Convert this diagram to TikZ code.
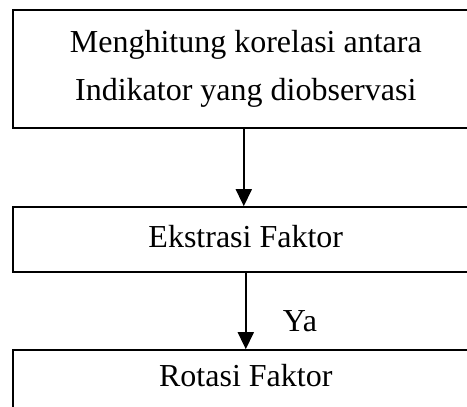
\documentclass[tikz,border=0pt]{standalone}
\usepackage{fontspec}
\setmainfont{Liberation Serif}
\usetikzlibrary{arrows.meta,positioning}
\tikzset{%
    flow_block/.style={%
        rectangle, draw=black, line width=1.6pt, minimum width=520pt, anchor=west
    },
    flow_text/.style={%
        align=center, text height=22pt, text depth=7pt, font=\fontsize{32}{48}\selectfont, xshift=-27pt
    },
    flow_label/.style={%
        rectangle, fill=white, minimum width=92pt, minimum height=58pt,
        text height=22pt, text depth=0pt, font=\fontsize{32}{38}\selectfont
    },
    flow_arrow/.style={%
        -{Triangle[length=17pt,width=16pt]}, line width=1.6pt
    },
}
\begin{document}
\begin{tikzpicture}[x=1pt, y=-1pt]
      \useasboundingbox[fill=white] (0,0) rectangle (467,407);

      \node[flow_block, minimum height=118pt,
        label={[flow_text, text height=70pt]center:Menghitung korelasi antara\\Indikator yang diobservasi}] (korelasi) at (12,69) {};
      \node[flow_block, minimum height=65pt,
        label={[flow_text]center:Ekstrasi Faktor}] (ekstraksi) at (12,239.5) {};
      \node[flow_block, minimum height=80pt,
        label={[flow_text, yshift=11pt]center:Rotasi Faktor}] (rotasi) at (12,390) {};

      \node[flow_label] (ya) at (300,320) {Ya};
      \draw [flow_arrow] ([xshift=-29pt]korelasi.south) -- ([xshift=-29pt]ekstraksi.north);
      \draw [flow_arrow] ([xshift=-27pt]ekstraksi.south) -- ([xshift=-27pt]rotasi.north);
    \end{tikzpicture}
\end{document}
